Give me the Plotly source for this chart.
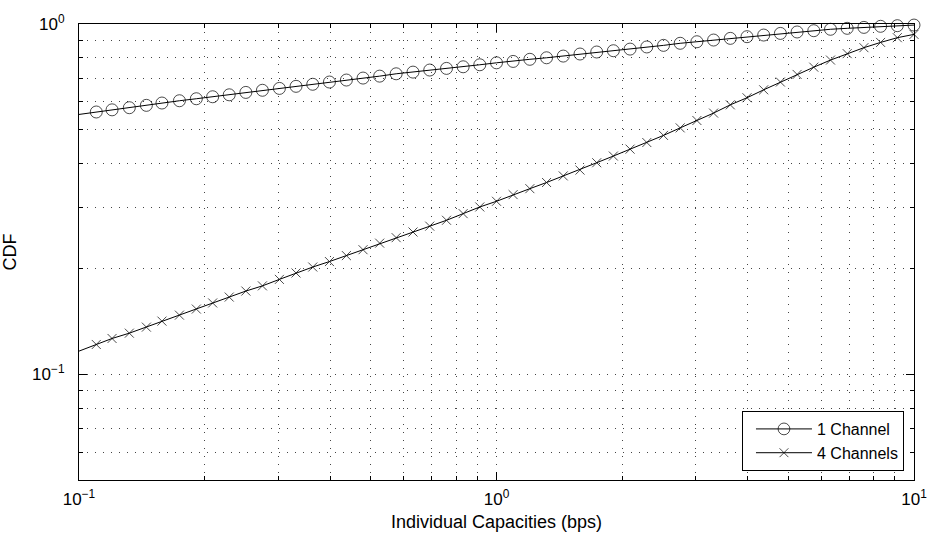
import plotly.graph_objects as go

# Individual capacity grid (bps), log-spaced; the first entry sits on the left axis edge
capacity = [0.1, 0.11, 0.12, 0.132, 0.145, 0.158, 0.174, 0.191, 0.209, 0.229, 0.251,
            0.275, 0.302, 0.331, 0.363, 0.398, 0.437, 0.479, 0.525, 0.575, 0.631,
            0.692, 0.759, 0.832, 0.912, 1.0, 1.096, 1.202, 1.318, 1.445, 1.585,
            1.738, 1.905, 2.089, 2.291, 2.512, 2.754, 3.02, 3.311, 3.631, 3.981,
            4.365, 4.786, 5.248, 5.754, 6.31, 6.918, 7.586, 8.318, 9.12, 10.0]

cdf_1ch = [0.552, 0.561, 0.569, 0.577, 0.586, 0.595, 0.604, 0.612, 0.620, 0.628, 0.638,
           0.647, 0.655, 0.664, 0.673, 0.683, 0.692, 0.701, 0.710, 0.721, 0.729,
           0.739, 0.747, 0.755, 0.765, 0.775, 0.782, 0.793, 0.801, 0.810, 0.821,
           0.832, 0.839, 0.848, 0.860, 0.869, 0.881, 0.890, 0.900, 0.910, 0.920,
           0.930, 0.940, 0.949, 0.957, 0.966, 0.972, 0.978, 0.985, 0.989, 0.993]

cdf_4ch = [0.1166, 0.1218, 0.1267, 0.1312, 0.1365, 0.142, 0.1477, 0.1537, 0.160, 0.1663, 0.173,
           0.179, 0.1868, 0.1948, 0.2026, 0.210, 0.2184, 0.227, 0.237, 0.2457, 0.255,
           0.265, 0.2754, 0.2877, 0.3006, 0.312, 0.326, 0.339, 0.353, 0.3686, 0.383,
           0.402, 0.420, 0.4395, 0.459, 0.481, 0.5054, 0.5305, 0.557, 0.588, 0.616,
           0.649, 0.683, 0.718, 0.753, 0.789, 0.823, 0.856, 0.886, 0.914, 0.934]

series_names = ["1 Channel", "4 Channels"]

# decade ticks
x_ticks = [0.1, 1, 10]
x_labels = ["10<sup>−1</sup>", "10<sup>0</sup>", "10<sup>1</sup>"]
y_ticks = [0.1, 1]
y_labels = ["10<sup>−1</sup>", "10<sup>0</sup>"]

FONT = "Liberation Sans, Arial, Helvetica, sans-serif"

# no marker on the edge point, the line simply enters from the axis
def marker_sizes(n, size):
    return [0] + [size] * (n - 1)

fig = go.Figure()
fig.add_trace(go.Scatter(
    x=capacity, y=cdf_1ch, name=series_names[0], mode="lines+markers",
    line=dict(color="black", width=1),
    marker=dict(symbol="circle-open", size=marker_sizes(len(capacity), 12),
                color="black", line=dict(width=1)),
    cliponaxis=False,
))
fig.add_trace(go.Scatter(
    x=capacity, y=cdf_4ch, name=series_names[1], mode="lines+markers",
    line=dict(color="black", width=1),
    marker=dict(symbol="x-thin", size=marker_sizes(len(capacity), 9),
                color="black", line=dict(width=1, color="black")),
    cliponaxis=False,
))

axis_common = dict(
    type="log", tickmode="array",
    showline=True, linecolor="black", linewidth=1, mirror="ticks",
    ticks="inside", ticklen=8, tickcolor="black", tickwidth=1,
    showgrid=True, gridcolor="#444", gridwidth=1, griddash="1px,7px",
    zeroline=False, automargin=False,
    tickfont=dict(family=FONT, size=17, color="black"),
    minor=dict(dtick="D1", ticks="inside", ticklen=4, tickcolor="black",
               showgrid=True, gridcolor="#444", gridwidth=1, griddash="1px,7px"),
)

fig.update_xaxes(**axis_common, range=[-1, 1], tickvals=x_ticks, ticktext=x_labels,
                 ticklabelstandoff=4,
                 title=dict(text="Individual Capacities (bps)", standoff=6,
                            font=dict(family=FONT, size=18, color="black")))
fig.update_yaxes(**axis_common, range=[-1.30103, 0], tickvals=y_ticks, ticktext=y_labels,
                 ticklabelstandoff=10,
                 title=dict(text="CDF", standoff=14,
                            font=dict(family=FONT, size=18, color="black")))

fig.update_layout(
    width=929, height=539,
    margin=dict(l=79, r=15, t=24, b=59),
    paper_bgcolor="white", plot_bgcolor="white",
    font=dict(family=FONT, color="black"),
    legend=dict(x=0.988, y=0.0197, xanchor="right", yanchor="bottom",
                bgcolor="white", bordercolor="black", borderwidth=1,
                font=dict(family=FONT, size=16, color="black"),
                itemwidth=56, indentation=8, tracegroupgap=0),
    showlegend=True,
)

fig.write_html("out.html")
